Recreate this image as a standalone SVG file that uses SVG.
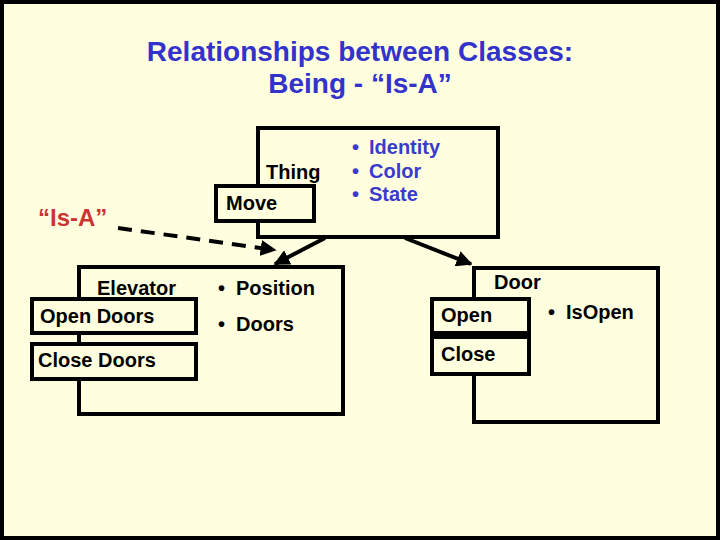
<svg xmlns="http://www.w3.org/2000/svg" width="720" height="540" viewBox="0 0 720 540">
<defs>
<style>
text{font-family:"Liberation Sans",Arial,sans-serif;font-weight:bold}
.t{fill:#3333cc;font-size:28px}
.b{fill:#000;font-size:20px}
.bl{fill:#3a3acc;font-size:20px}
.r{fill:#cc3333;font-size:24px}
.box{fill:none;stroke:#000;stroke-width:4}
.fbox{fill:#ffffe0;stroke:#000;stroke-width:4}
.ln{stroke:#000;stroke-width:4;fill:none}
</style>
<marker id="ah" viewBox="0 0 10 10" refX="9" refY="5" markerWidth="4" markerHeight="4" orient="auto" markerUnits="strokeWidth">
<path d="M0,0 L10,5 L0,10 z" fill="#000"/>
</marker>
</defs>
<rect x="2" y="2" width="716" height="536" fill="#ffffe0" stroke="#000" stroke-width="4"/>
<text class="t" x="360" y="61" text-anchor="middle">Relationships between Classes:</text>
<text class="t" x="360" y="93" text-anchor="middle">Being - “Is-A”</text>
<text class="r" x="38" y="226">“Is-A”</text>
<g id="connectors">
<line class="ln" x1="325" y1="238" x2="275" y2="264" marker-end="url(#ah)"/>
<line class="ln" x1="405" y1="238" x2="471" y2="264" marker-end="url(#ah)"/>
<line x1="118" y1="228" x2="275" y2="250" stroke="#000" stroke-width="4" stroke-dasharray="14,9" marker-end="url(#ah)"/>
</g>
<g id="thing">
<rect class="box" x="258" y="128" width="240" height="109"/>
<rect class="fbox" x="216" y="186" width="98" height="35"/>
<text class="b" x="266" y="179" font-size="19">Thing</text>
<text class="b" x="226" y="210" font-size="19">Move</text>
<text class="bl" y="154"><tspan x="352">•</tspan><tspan x="369">Identity</tspan></text>
<text class="bl" y="178"><tspan x="352">•</tspan><tspan x="369">Color</tspan></text>
<text class="bl" y="201"><tspan x="352">•</tspan><tspan x="369">State</tspan></text>
</g>
<g id="elevator">
<rect class="box" x="79" y="267" width="264" height="147"/>
<rect class="fbox" x="32" y="299" width="164" height="34"/>
<rect class="fbox" x="32" y="344" width="164" height="35"/>
<text class="b" x="97" y="295">Elevator</text>
<text class="b" x="40" y="323">Open Doors</text>
<text class="b" x="38" y="367">Close Doors</text>
<text class="b" y="295"><tspan x="218">•</tspan><tspan x="236">Position</tspan></text>
<text class="b" y="331"><tspan x="218">•</tspan><tspan x="236">Doors</tspan></text>
</g>
<g id="door">
<rect class="box" x="474" y="268" width="184" height="154"/>
<rect class="fbox" x="432" y="299" width="97" height="34"/>
<rect class="fbox" x="432" y="337" width="97" height="37"/>
<text class="b" x="494" y="289">Door</text>
<text class="b" x="441" y="322">Open</text>
<text class="b" x="441" y="361">Close</text>
<text class="b" y="319"><tspan x="548">•</tspan><tspan x="566">IsOpen</tspan></text>
</g>
</svg>
